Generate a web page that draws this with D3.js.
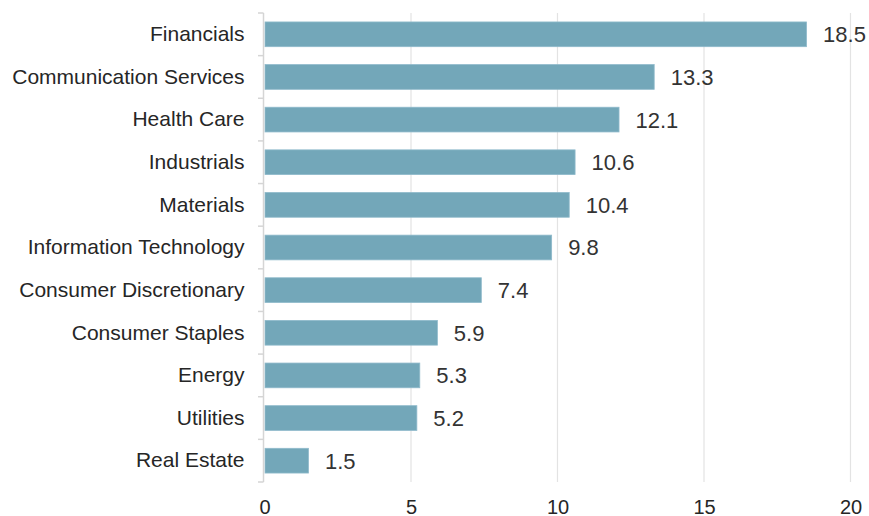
<!DOCTYPE html>
<html><head><meta charset="utf-8">
<script src="https://cdn.jsdelivr.net/npm/d3@7"></script>
<style>body{margin:0;background:#fff}svg{display:block}</style>
</head><body>
<script>
const categories = ["Financials","Communication Services","Health Care","Industrials","Materials","Information Technology","Consumer Discretionary","Consumer Staples","Energy","Utilities","Real Estate"];
const values = [18.5,13.3,12.1,10.6,10.4,9.8,7.4,5.9,5.3,5.2,1.5];
const xTicks = [0,5,10,15,20];

const W=869,H=516;
const m={left:264.5,right:W-850.5,top:13,bottom:H-482};
const svg=d3.select("body").append("svg").attr("width",W).attr("height",H);
const x=d3.scaleLinear().domain([0,20]).range([m.left,W-m.right]);
const y=d3.scaleBand().domain(categories).range([m.top,H-m.bottom]).paddingInner(0.42).paddingOuter(0.21);
const font="'Liberation Sans', Arial, sans-serif";

// grid
svg.append("g").selectAll("line").data(xTicks.filter(d=>d>0)).join("line")
 .attr("x1",d=>x(d)).attr("x2",d=>x(d)).attr("y1",m.top).attr("y2",H-m.bottom)
 .attr("stroke","#e3e3e3").attr("stroke-width",1.2);

// bars
svg.append("g").selectAll("rect").data(values).join("rect")
 .attr("x",x(0)+0.5).attr("y",(d,i)=>y(categories[i]))
 .attr("width",d=>x(d)-x(0)-0.5).attr("height",y.bandwidth())
 .attr("fill","#73a7b9").attr("stroke","#8fbacb").attr("stroke-width",0.8);

// value labels
svg.append("g").selectAll("text").data(values).join("text")
 .attr("x",d=>x(d)+16.5).attr("y",(d,i)=>y(categories[i])+y.bandwidth()/2)
 .attr("dy","0.36em").attr("font-family",font).attr("font-size",22).attr("fill","#333")
 .text(d=>d.toFixed(1));

// y axis
const yAxis=d3.axisLeft(y).tickSize(0).tickPadding(19);
const gy=svg.append("g").attr("transform",`translate(${m.left-1},0)`).call(yAxis);
gy.select(".domain").attr("stroke","#d5d5d5").attr("stroke-width",1.5).attr("d",`M0,${m.top}V${H-m.bottom}`);
gy.selectAll("text").attr("font-family",font).attr("font-size",21).attr("fill","#262626");
// boundary ticks
const step=(H-m.bottom-m.top)/categories.length;
svg.append("g").selectAll("line").data(d3.range(categories.length+1)).join("line")
 .attr("x1",m.left-6.5).attr("x2",m.left-1).attr("y1",i=>m.top+i*step).attr("y2",i=>m.top+i*step)
 .attr("stroke","#d5d5d5").attr("stroke-width",1.5);

// x axis
const xAxis=d3.axisBottom(x).tickValues(xTicks).tickSize(0).tickPadding(0).tickFormat(d3.format("d"));
const gx=svg.append("g").attr("transform",`translate(0,${H-m.bottom})`).call(xAxis);
gx.select(".domain").remove();
gx.selectAll("text").attr("font-family",font).attr("font-size",20).attr("fill","#262626").attr("y",null).attr("dy",null).attr("dominant-baseline","auto").attr("transform","translate(0,32)");
</script>
</body></html>
